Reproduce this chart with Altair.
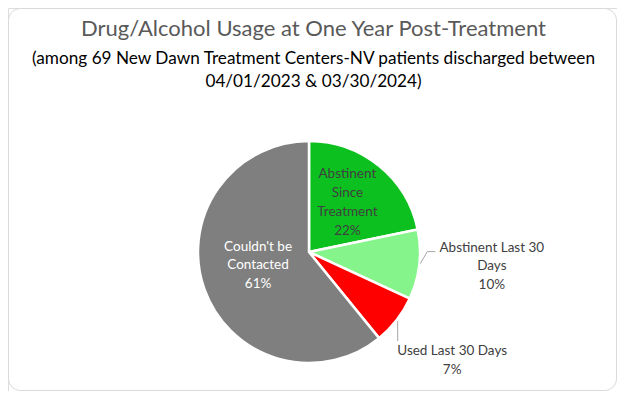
import math
import altair as alt
import pandas as pd

# ---- data ----
categories = ["Abstinent Since Treatment", "Abstinent Last 30 Days",
              "Used Last 30 Days", "Couldn't be Contacted"]
counts = [15, 7, 5, 42]
label_names = ["Abstinent\nSince\nTreatment", "Abstinent Last 30\nDays",
               "Used Last 30 Days", "Couldn't be\nContacted"]
colors = ["#0CC11F", "#85F48A", "#FF0000", "#7F7F7F"]
title_text = "Drug/Alcohol Usage at One Year Post-Treatment"
subtitle_lines = ["(among 69 New Dawn Treatment Centers-NV patients discharged between",
                  "04/01/2023 & 03/30/2024)"]

total = sum(counts)
df = pd.DataFrame({
    "category": categories,
    "count": counts,
    "order": list(range(len(categories))),
    "label": [f"{n}\n{round(c / total * 100)}%" for n, c in zip(label_names, counts)],
})

# ---- layout ----
W, H = 609, 383
CX, CY, R = 301, 244, 111
FONT = "Lato"

color = alt.Color("category:N", scale=alt.Scale(domain=categories, range=colors), legend=None)
theta = alt.Theta("count:Q", stack=True)
order = alt.Order("order:Q")

base = alt.Chart(df)

border = alt.Chart(pd.DataFrame({"a": [0]})).mark_rect(
    fill="white", stroke="#D9D9D9", strokeWidth=1, cornerRadius=12
).encode(x=alt.value(0.5), x2=alt.value(W - 0.5), y=alt.value(0.5), y2=alt.value(H - 0.5))

pie = base.mark_arc(radius=R, stroke="white", strokeWidth=2.5).encode(
    theta=theta, color=color, order=order, x=alt.value(CX), y=alt.value(CY)
)


def label_layer(idx, radius, col, lh, dy, dx=0):
    return base.mark_text(
        radius=radius, font=FONT, fontSize=13.5, lineBreak="\n", lineHeight=lh,
        align="center", baseline="middle", color=col, dy=dy, dx=dx
    ).encode(
        theta=theta, order=order, x=alt.value(CX), y=alt.value(CY),
        text=alt.condition(f"datum.order == {idx}", "label:N", alt.value("")),
    )


labels = [
    label_layer(0, 64, "#404040", 19, -28.5, -2),
    label_layer(1, 184, "#404040", 18.5, -25),
    label_layer(2, 180, "#404040", 19, -11, 1),
    label_layer(3, 53, "white", 18.5, -23, -1),
]

# leader lines from slice mid-angles
cum = 0
mids = []
for c in counts:
    mids.append((cum + c / 2) / total * 2 * math.pi)
    cum += c


def edge(i):
    return CX + R * math.sin(mids[i]), CY - R * math.cos(mids[i])


one = pd.DataFrame({"a": [0]})
lc = "#A6A6A6"
x1, y1 = edge(1)
x2, y2 = edge(2)
leaders = [
    alt.Chart(one).mark_rule(color=lc, strokeWidth=1).encode(
        x=alt.value(x1 + 1), y=alt.value(y1 - 1), x2=alt.value(x1 + 8), y2=alt.value(y1 - 13)),
    alt.Chart(one).mark_rule(color=lc, strokeWidth=1).encode(
        x=alt.value(x1 + 8), y=alt.value(y1 - 13), x2=alt.value(x1 + 16), y2=alt.value(y1 - 13)),
    alt.Chart(one).mark_rule(color=lc, strokeWidth=1).encode(
        x=alt.value(x2 + 1), y=alt.value(y2 + 1), x2=alt.value(x2 + 1), y2=alt.value(y2 + 21)),
]

titles = [
    alt.Chart(one).mark_text(text=title_text, font=FONT, fontSize=22, color="#595959",
                             align="center", baseline="alphabetic").encode(
        x=alt.value(W / 2 + 1), y=alt.value(28)),
    alt.Chart(one).mark_text(text=subtitle_lines[0], font=FONT, fontSize=17.2, color="#000000",
                             align="center", baseline="alphabetic").encode(
        x=alt.value(W / 2 + 1), y=alt.value(56)),
    alt.Chart(one).mark_text(text=subtitle_lines[1], font=FONT, fontSize=17.2, color="#000000",
                             align="center", baseline="alphabetic").encode(
        x=alt.value(W / 2 + 1), y=alt.value(79)),
]

chart = alt.layer(border, pie, *leaders, *labels, *titles).properties(
    width=W, height=H, padding=0, autosize=alt.AutoSizeParams(type="none")
).configure_view(stroke=None).configure(background="white")

chart.save("out.html", embed_options={"renderer": "svg", "actions": False})
